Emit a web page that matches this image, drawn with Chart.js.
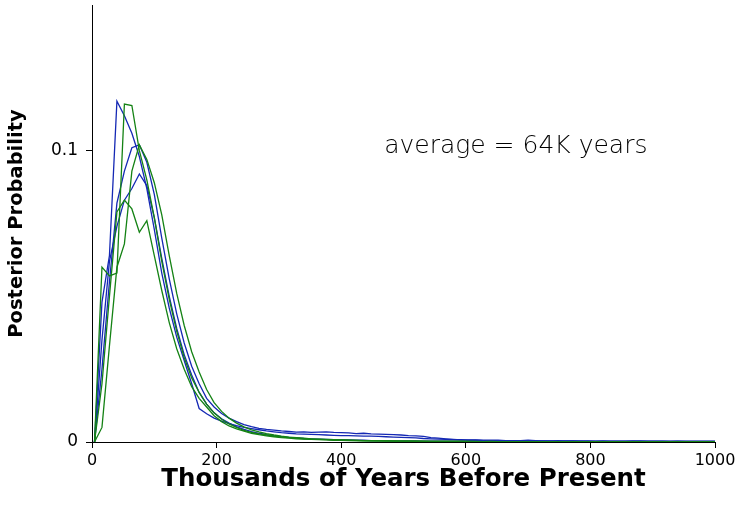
<!DOCTYPE html>
<html>
<head>
<meta charset="utf-8">
<script src="https://cdn.jsdelivr.net/npm/chart.js@4"></script>
<style>
html,body{margin:0;padding:0;background:#fff;}
#wrap{position:relative;width:740px;height:527px;}
</style>
</head>
<body>
<div id="wrap"><canvas id="c" width="740" height="527"></canvas></div>
<script>
// x positions (thousands of years before present)
const xValues = [4,16,28,40,52,64,76,88,100,112,124,136,148,160,172,184,196,208,220,232,244,
256,268,280,292,304,316,328,340,352,364,376,388,400,412,424,436,448,460,472,484,
496,508,520,532,544,556,568,580,592,604,616,628,640,652,664,676,688,700,712,724,
736,748,760,772,784,796,808,820,832,844,856,868,880,892,904,916,928,940,952,964,976,988,1000];

const blueA = [0,0.048,0.064,0.117,0.112,0.106,0.098,0.087,0.073,0.058,0.046,0.036,0.028,0.020,0.0115,0.0097,0.0082,0.0072,0.0063,0.0056,0.0050,
0.0046,0.0042,0.0038,0.0035,0.0032,0.0030,0.0028,0.0027,0.0026,0.0025,
0.0024,0.0023,0.0022,0.0022,0.0021,0.0020,0.0020,0.0019,0.0018,0.0017,
0.0016,0.0015,0.0014,0.0012,0.0011,0.0010,0.0009,0.0008,0.0008,0.0007,
0.0007,0.0006,0.0006,0.0006,0.0005,0.0005,0.0005,0.0006,0.0005,0.0004,
0.0004,0.0005,0.0004,0.0004,0.0004,0.0003,0.0003,0.0004,0.0003,0.0003,
0.0003,0.0004,0.0003,0.0003,0.0003,0.0003,0.0002,0.0003,0.0003,0.0002,
0.0002,0.0002,0.0002];

const blueB = [0,0.025,0.055,0.082,0.093,0.101,0.102,0.096,0.085,0.070,0.056,0.044,0.034,0.026,0.020,0.015,0.012,0.0098,0.0082,0.0070,0.0060,
0.0053,0.0047,0.0043,0.0041,0.0038,0.0036,0.0034,0.0035,0.0033,0.0034,
0.0035,0.0033,0.0032,0.0031,0.0029,0.0030,0.0028,0.0027,0.0026,0.0025,
0.0024,0.0022,0.0021,0.0019,0.0015,0.0013,0.0011,0.0009,0.0007,0.0006,
0.0006,0.0005,0.0005,0.0005,0.0004,0.0004,0.0005,0.0004,0.0004,0.0004,
0.0004,0.0003,0.0004,0.0004,0.0003,0.0004,0.0003,0.0003,0.0003,0.0003,
0.0003,0.0003,0.0004,0.0003,0.0003,0.0003,0.0003,0.0003,0.0002,0.0003,
0.0003,0.0003,0.0003];

const blueC = [0,0.035,0.062,0.074,0.083,0.087,0.092,0.088,0.077,0.063,0.050,0.039,0.030,0.023,0.017,0.013,0.010,0.0080,0.0065,0.0052,0.0043,
0.0036,0.0030,0.0025,0.0021,0.0018,0.0016,0.0014,0.0012,0.0011,0.0010,
0.0009,0.0008,0.0008,0.0007,0.0006,0.0006,0.0005,0.0005,0.0005,0.0004,
0.0004,0.0004,0.0004,0.0003,0.0003,0.0003,0.0003,0.0003,0.0003,0.0002,
0.0002,0.0002,0.0002,0.0002,0.0002,0.0002,0.0002,0.0002,0.0001,0.0002,
0.0001,0.0001,0.0001,0.0002,0.0001,0.0001,0.0001,0.0001,0.0001,0.0001,
0.0001,0.0001,0.0001,0.0001,0.0001,0.0001,0.0001,0.0001,0.0001,0.0001,
0.0001,0.0001,0.0001];

const greenD = [0,0.060,0.057,0.058,0.116,0.1155,0.100,0.090,0.077,0.062,0.049,0.038,0.029,0.022,0.017,0.013,0.0100,0.0078,0.0062,0.0050,0.0040,
0.0033,0.0028,0.0024,0.0020,0.0017,0.0015,0.0013,0.0011,0.0010,0.0009,
0.0008,0.0007,0.0006,0.0006,0.0005,0.0005,0.0004,0.0004,0.0004,0.0003,
0.0003,0.0003,0.0003,0.0002,0.0002,0.0002,0.0002,0.0002,0.0002,0.0002,
0.0001,0.0001,0.0001,0.0001,0.0001,0.0001,0.0001,0.0001,0.0001,0.0001,
0.0001,0.0001,0.0001,0.0001,0.0001,0.0001,0.0001,0.0001,0.0001,0.0001,
0.0001,0.0001,0.0001,0.0001,0.0001,0.0001,0.0001,0.0001,0.0001,0.0001,
0.0001,0.0001,0.0001];

const greenE = [0,0.005,0.033,0.060,0.068,0.093,0.102,0.097,0.089,0.078,0.064,0.051,0.040,0.031,0.024,0.018,0.0135,0.0105,0.0082,0.0065,0.0052,
0.0042,0.0035,0.0029,0.0024,0.0020,0.0017,0.0015,0.0013,0.0011,0.0010,
0.0009,0.0008,0.0007,0.0006,0.0006,0.0005,0.0005,0.0004,0.0004,0.0004,
0.0003,0.0003,0.0003,0.0003,0.0002,0.0002,0.0002,0.0002,0.0002,0.0002,
0.0002,0.0001,0.0002,0.0001,0.0001,0.0001,0.0001,0.0001,0.0001,0.0001,
0.0001,0.0001,0.0001,0.0001,0.0001,0.0001,0.0001,0.0001,0.0001,0.0001,
0.0001,0.0001,0.0001,0.0001,0.0001,0.0001,0.0001,0.0001,0.0001,0.0001,
0.0001,0.0001,0.0001];

const greenF = [0,0.020,0.050,0.079,0.083,0.080,0.072,0.076,0.064,0.052,0.041,0.032,0.025,0.019,0.015,0.012,0.0090,0.0070,0.0055,0.0045,0.0037,
0.0030,0.0025,0.0021,0.0018,0.0015,0.0013,0.0011,0.0010,0.0009,0.0008,
0.0007,0.0006,0.0006,0.0005,0.0005,0.0004,0.0004,0.0004,0.0003,0.0003,
0.0003,0.0003,0.0002,0.0002,0.0002,0.0002,0.0002,0.0002,0.0002,0.0001,
0.0001,0.0001,0.0001,0.0001,0.0001,0.0001,0.0001,0.0001,0.0001,0.0001,
0.0001,0.0001,0.0001,0.0001,0.0001,0.0001,0.0001,0.0001,0.0001,0.0001,
0.0001,0.0001,0.0001,0.0001,0.0001,0.0001,0.0001,0.0001,0.0001,0.0001,
0.0001,0.0001,0.0001];

const xTickLabels = ['0','200','400','600','800','1000'];
const yTickLabels = ['0','0.1'];
const annotationText = 'average = 64K years';
const xTitle = 'Thousands of Years Before Present';
const yTitle = 'Posterior Probability';

const BLUE = '#1428b4';
const GREEN = '#148214';
const FONT = '"DejaVu Sans", Verdana, sans-serif';

function pts(arr){ return arr.map((v,i)=>({x:xValues[i], y:v})); }
function ds(arr, color){
  return {data: pts(arr), borderColor: color, borderWidth: 1.3, pointRadius: 0, fill: false, tension: 0};
}

const annotationPlugin = {
  id: 'annot',
  afterDraw(chart){
    const ctx = chart.ctx;
    const xs = chart.scales.x, ys = chart.scales.y;
    ctx.save();
    ctx.font = '200 25px "DejaVu Sans", sans-serif';
    ctx.fillStyle = '#000';
    ctx.textBaseline = 'middle';
    ctx.textAlign = 'left';
    ctx.fillText(annotationText, xs.getPixelForValue(469), ys.getPixelForValue(0.1015));
    ctx.restore();
  }
};

new Chart(document.getElementById('c'), {
  type: 'line',
  data: {
    datasets: [ds(greenF, GREEN), ds(greenE, GREEN), ds(greenD, GREEN), ds(blueC, BLUE), ds(blueB, BLUE), ds(blueA, BLUE)]
  },
  options: {
    responsive: false,
    animation: false,
    layout: {padding: {top: 5, right: 25, left: 0, bottom: 33}},
    plugins: {legend: {display: false}, tooltip: {enabled: false}},
    scales: {
      x: {
        type: 'linear', min: 0, max: 1000,
        border: {color: '#000', width: 1},
        grid: {drawOnChartArea: false, drawTicks: true, tickLength: 6, color: '#000'},
        ticks: {stepSize: 200, color: '#000', font: {family: FONT, size: 16}, padding: 3,
          callback: (v) => { const i = Math.round(v/200); return xTickLabels[i] !== undefined ? xTickLabels[i] : ''; }},
        title: {display: true, text: xTitle, color: '#000', font: {family: FONT, size: 24.5, weight: 'bold'}, padding: {top: 0, bottom: 0}},
        afterFit: (s) => { s.height = 52; }
      },
      y: {
        type: 'linear', min: 0, max: 0.15,
        border: {color: '#000', width: 1},
        grid: {drawOnChartArea: false, drawTicks: true, tickLength: 6, color: '#000'},
        afterBuildTicks: (s) => { s.ticks = s.ticks.filter(t => t.value <= 0.1 + 1e-9); },
        ticks: {stepSize: 0.1, color: '#000', font: {family: FONT, size: 17}, padding: 8,
          callback: (v) => { const i = Math.round(v/0.1); return yTickLabels[i] !== undefined ? yTickLabels[i] : ''; }},
        title: {display: true, text: yTitle, color: '#000', font: {family: FONT, size: 19.5, weight: 'bold'}, padding: {top: 5, bottom: 0}},
        afterFit: (s) => { s.width = 92; s.paddingTop = 0; s.paddingBottom = 0; }
      }
    }
  },
  plugins: [annotationPlugin]
});
</script>
</body>
</html>
